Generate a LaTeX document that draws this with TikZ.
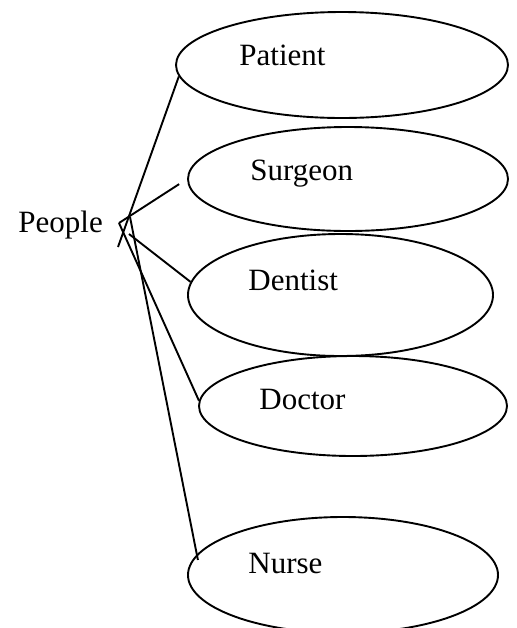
\documentclass[tikz,border=0pt]{standalone}
\usepackage{fontspec}
\setmainfont{Liberation Serif}
\usepackage{tikz}
\usetikzlibrary{shapes.geometric, positioning}

\begin{document}
\begin{tikzpicture}[
  x=0.5pt, y=-0.5pt,
  oval/.style={draw, ellipse, line width=0.95pt, inner sep=0pt},
  lbl/.style={anchor=base west, inner sep=0pt, font=\fontsize{15.5}{18}\selectfont},
  link/.style={line width=0.95pt},
]
\clip (0,0) rectangle (517,628);

% Ellipses
\node[oval, minimum width=166pt, minimum height=53pt] (patient) at (342,65) {};
\node[oval, minimum width=160pt, minimum height=52pt] (surgeon) at (348,179) {};
\node[oval, minimum width=152.5pt, minimum height=61pt] (dentist) at (340.5,295) {};
\node[oval, minimum width=154pt, minimum height=50pt] (doctor) at (353,406) {};
\node[oval, minimum width=155pt, minimum height=58pt] (nurse) at (343,575) {};

% Labels
\node[lbl] (people) at (18,232) {People};
\node[lbl] (patienttxt) at (239,65) {Patient};
\node[lbl] (surgeontxt) at (250,180) {Surgeon};
\node[lbl] (dentisttxt) at (248,290) {Dentist};
\node[lbl] (doctortxt) at (259,409) {Doctor};
\node[lbl] (nursetxt) at (248,573) {Nurse};

% Line ends next to People
\coordinate (pa) at (118,247);
\coordinate (pv) at (119,223);
\coordinate (pd) at (129,234);
\coordinate (pn) at (130,217);

% Links
\draw[link] (pa) -- (patient.184);
\draw[link, shorten >=4.7pt] (pv) -- (surgeon.west);
\draw[link] (pd) -- (dentist.175);
\draw[link] (pv) -- (doctor.178);
\draw[link, shorten >=-2.8pt] (pn) -- (nurse.172);

\end{tikzpicture}
\end{document}
